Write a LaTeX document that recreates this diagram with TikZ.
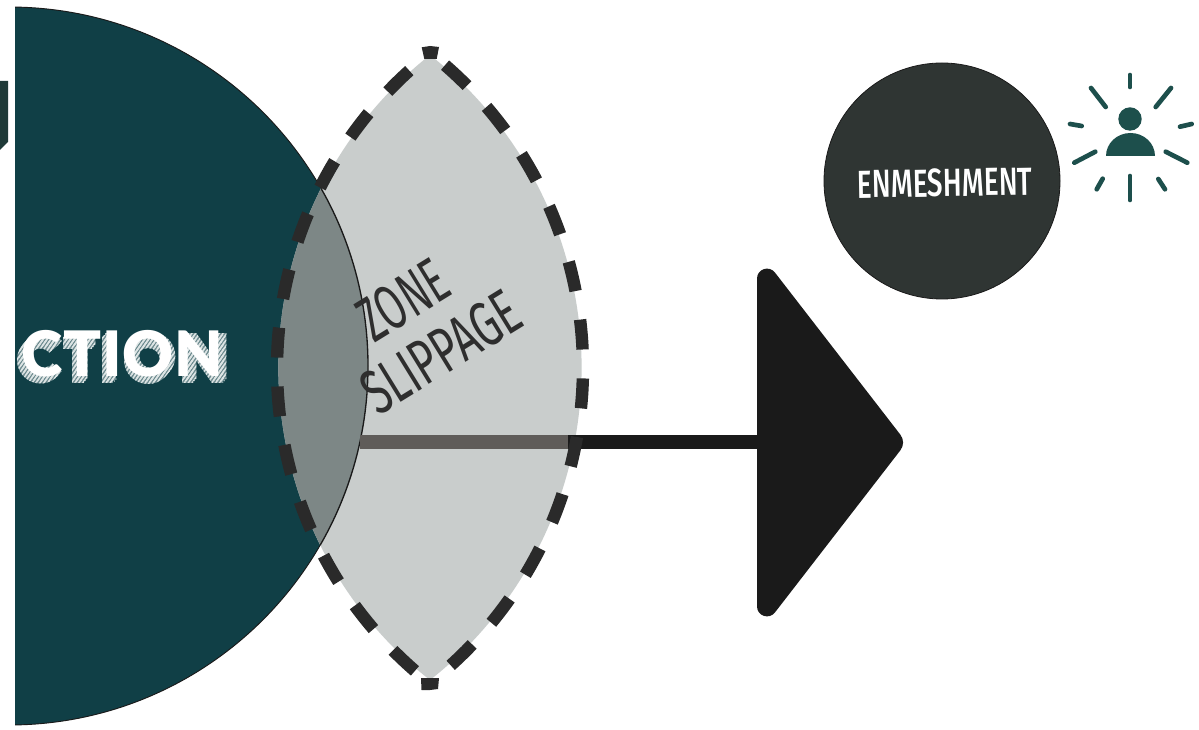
\documentclass[tikz,border=0pt]{standalone}
\usepackage{fontspec}
\setmainfont{Lato}
\newfontfamily\bigfont[UprightFont=* Black,LetterSpace=1.5]{Lato}
\newfontfamily\handfont[UprightFont=* Medium]{Fira Sans}
\newfontfamily\handlight{Fira Sans}
\usetikzlibrary{patterns.meta}
\definecolor{tealbig}{HTML}{103F46}
\definecolor{lensgrey}{HTML}{C9CDCC}
\definecolor{overlapgrey}{HTML}{7D8786}
\definecolor{darkdash}{HTML}{2A2A2A}
\definecolor{inkblack}{HTML}{1A1A1A}
\definecolor{barinside}{HTML}{5F5C59}
\definecolor{enmesh}{HTML}{2F3533}
\definecolor{icongreen}{HTML}{1D4F4C}
\definecolor{handink}{HTML}{2E2E2E}
\definecolor{hatchbase}{HTML}{6F8C90}
\definecolor{hatchline}{HTML}{DDE5E5}
\definecolor{fragment}{HTML}{1F3A38}
\tikzset{
  lensdash/.style={draw=darkdash,line width=9.3pt,dash pattern=on 22.5pt off 21.7pt,dash phase=29.55pt},
  apexcap/.style={fill=darkdash},
  ray/.style={draw=icongreen,line width=3.5pt,line cap=round},
  handtext/.style={text=handink,inner sep=0pt},
  hatched/.style={pattern={Lines[angle=55,distance=2.4pt,line width=1.1pt]},pattern color=hatchline},
}
\newcommand{\lensfillpath}{(430,55) arc[start angle=-51.75,end angle=51.75,radius=398] arc[start angle=128.25,end angle=231.75,radius=398] -- cycle}
\newcommand{\shadowglyphs}[1]{%
  \path[#1] (68,331) -- (97,331) -- (97,343) -- (89,343) -- (89,377) -- (77,377) -- (77,343) -- (68,343) -- cycle;
  \path[#1] (107,331) rectangle (118,377);
  \path[#1] (187,331) -- (198,331) -- (217,358) -- (217,331) -- (228,331) -- (228,377) -- (217,377) -- (198,350) -- (198,377) -- (187,377) -- cycle;
  \path[#1,even odd rule] (153,354) circle[radius=24] (153,354) circle[radius=12];
  \begin{scope}[shift={(45.5,354)}]
    \path[#1] (-40:23.5) arc[start angle=-40,end angle=-320,radius=23.5] -- (-320:11.5) arc[start angle=-320,end angle=-40,radius=11.5] -- cycle;
  \end{scope}
}
\begin{document}
\begin{tikzpicture}[x=0.75pt,y=-0.75pt]
\useasboundingbox (0,0) rectangle (1199,730);
\fill[white] (0,0) rectangle (1199,730);
% fragment at far left
\fill[fragment] (0,81) -- (8,81) -- (8,142) -- (0,150) -- cycle;
% big teal disc
\begin{scope}
\clip (15,0) rectangle (1199,730);
\fill[tealbig,draw=inkblack,line width=.7pt] (9,366) circle[radius=359];
\end{scope}
% lens
\fill[lensgrey] \lensfillpath;
\begin{scope}
\clip (9,366) circle[radius=359];
\fill[overlapgrey] \lensfillpath;
\end{scope}
\begin{scope}
\clip \lensfillpath;
\draw[inkblack,line width=1pt] (9,366) circle[radius=359];
\end{scope}
% connector and arrowhead
\coordinate (barL) at (360,442);
\coordinate (barM) at (568,442);
\coordinate (barR) at (765,442);
\fill[inkblack] (757,278.6) .. controls (757,269.1) and (769,265) .. (774.9,272.5)
  -- (900.3,434.6) .. controls (904,439.3) and (904,445.7) .. (900.3,450.4)
  -- (774.9,612.5) .. controls (769,620) and (757,615.9) .. (757,606.4) -- cycle;
\draw[barinside,line width=10.9pt] (barL) -- (barM);
\draw[inkblack,line width=10.9pt] (barM) -- (barR);
% dashed lens outline
\draw[lensdash] (430,52.7) arc[start angle=-51.8,end angle=51.8,radius=400.9];
\draw[lensdash] (430,683.3) arc[start angle=128.2,end angle=231.8,radius=400.9];
\fill[apexcap] (421.7,47.3) -- (430,46) -- (439,47) -- (436.7,59) -- (424.3,59) -- cycle;
\fill[apexcap] (421,678) -- (439,678) -- (438,689) -- (430,690) -- (421.5,690) -- cycle;
% labels
\node[handtext,rotate=31.6] (zone) at (403,300) {\handlight\fontsize{28}{30}\selectfont\scalebox{1.05}[1.7]{ZONE}};
\node[handtext,rotate=31.6] (slip) at (441,352) {\handlight\fontsize{28}{30}\selectfont\scalebox{1.12}[1.7]{SLIPPAGE}};
% CTION with hatched extrusion
\begin{scope}[shift={(-5,6)}]\shadowglyphs{fill=hatchbase}\end{scope}
\begin{scope}[shift={(-3.5,4.2)}]\shadowglyphs{fill=hatchbase}\end{scope}
\begin{scope}[shift={(-1.7,2.1)}]\shadowglyphs{fill=hatchbase}\end{scope}
\begin{scope}[shift={(-5,6)}]\shadowglyphs{hatched}\end{scope}
\begin{scope}[shift={(-3.5,4.2)}]\shadowglyphs{hatched}\end{scope}
\begin{scope}[shift={(-1.7,2.1)}]\shadowglyphs{hatched}\end{scope}
\node[text=white,anchor=west,inner sep=0pt,font=\bigfont\fontsize{47}{47}\selectfont] (ction) at (21,354) {CTION};
% enmeshment
\node[circle,fill=enmesh,draw=inkblack,line width=.6pt,minimum size=177pt,inner sep=0pt] (enm) at (942,181) {};
\node[text=white,inner sep=0pt,rotate=1] (enmlabel) at (945,183) {\handfont\fontsize{21}{24}\selectfont\scalebox{1}[1.4]{ENMESHMENT}};
% person icon
\fill[icongreen] (1130,119) circle[radius=11.7];
\fill[icongreen] (1106,156) arc[start angle=180,end angle=360,x radius=24.5,y radius=23] -- cycle;
\draw[ray] (1130,75) -- (1130,87);
\draw[ray] (1091,88) -- (1105.7,107);
\draw[ray] (1171,88) -- (1155.7,107);
\draw[ray] (1070,124) -- (1081.7,126);
\draw[ray] (1191.7,124) -- (1180,126.7);
\draw[ray] (1095.3,151.7) -- (1074.3,162.7);
\draw[ray] (1165.7,151.7) -- (1187.3,162.7);
\draw[ray] (1130,176) -- (1130,200);
\draw[ray] (1102.7,178.7) -- (1096.7,189.3);
\draw[ray] (1158.3,179) -- (1165,189.3);
\end{tikzpicture}
\end{document}
